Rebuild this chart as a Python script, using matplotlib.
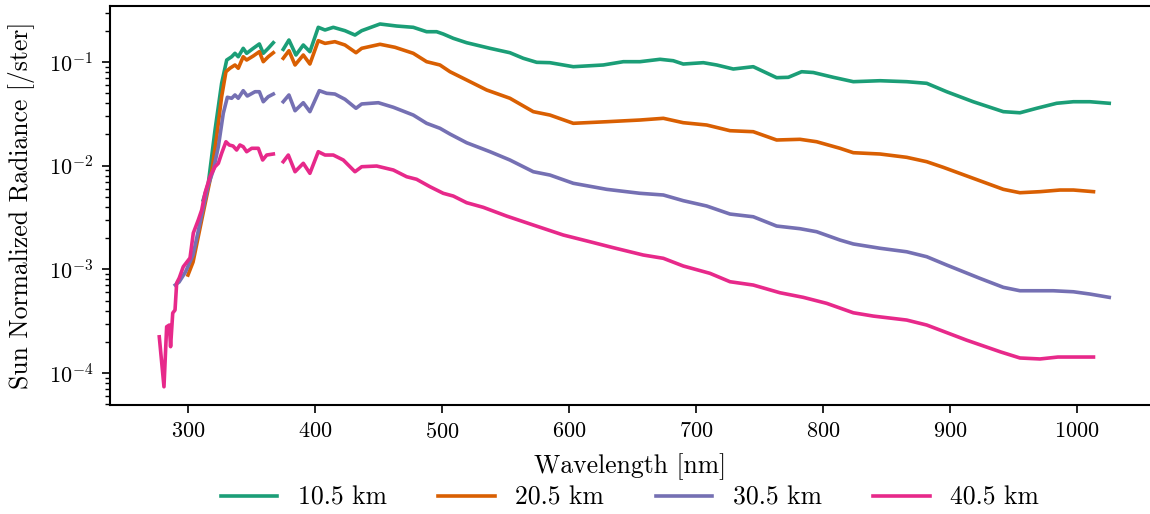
import numpy as np
import matplotlib
matplotlib.use("Agg")
import matplotlib.pyplot as plt

plt.rcParams["font.family"] = "serif"
plt.rcParams["font.serif"] = ["cmr10"]
plt.rcParams["mathtext.fontset"] = "cm"
plt.rcParams["axes.formatter.use_mathtext"] = True
plt.rcParams["axes.unicode_minus"] = False

nan = np.nan

# 10.5 km
wl_10 = [312, 316, 321.3, 326.5, 330.5, 334.4, 337, 339.6, 343.5, 346.2, 351.4, 356.2, 359.3, 363.2, 367.2,
         370, 375, 379.5, 385, 390.8, 396, 402.6, 407.9, 414.4, 423.6, 431.5, 436.8, 451.2, 464.3, 477.4,
         487.9, 495.8, 501, 508.9, 519.4, 537.8, 553.5, 564, 574.6, 585, 603.4, 627, 642.8, 655.9, 671.7,
         682.1, 690, 705.8, 716.3, 729.4, 745.1, 763.5, 772.7, 783.2, 792.4, 808.1, 823.9, 844.9, 865.9,
         881.7, 897.4, 918.3, 942, 955.1, 968.3, 984, 997.2, 1010.2, 1025.4]
rad_10 = [0.00467, 0.00676, 0.0221, 0.0623, 0.1045, 0.1124, 0.1213, 0.1124, 0.1355, 0.1213, 0.1355, 0.1493,
          0.1213, 0.1355, 0.1535, nan, 0.1324, 0.163, 0.1168, 0.1459, 0.1257, 0.216, 0.2035, 0.216, 0.2004,
          0.182, 0.2004, 0.2325, 0.2223, 0.216, 0.1959, 0.1959, 0.1862, 0.1692, 0.1535, 0.1355, 0.1229,
          0.1086, 0.0993, 0.0985, 0.0901, 0.0936, 0.1007, 0.1007, 0.1062, 0.1029, 0.0956, 0.0985, 0.0936,
          0.0856, 0.0901, 0.0706, 0.0712, 0.0806, 0.0792, 0.0712, 0.0646, 0.066, 0.0646, 0.0623, 0.0517,
          0.0414, 0.0332, 0.0324, 0.0358, 0.040, 0.0414, 0.0414, 0.040]

# 20.5 km
wl_20 = [300, 304, 310.8, 318.5, 322.6, 326.5, 329.9, 333, 337, 339.6, 343.5, 346.2, 351.4, 356.2, 359.3,
         363.2, 367.2, 370, 375, 379.5, 384.3, 390.8, 396, 402.6, 407.9, 415.7, 423.6, 432.3, 436.8, 451.2,
         463, 477.4, 487.9, 498.4, 506.3, 519.4, 535.2, 553.5, 571.9, 585, 603.4, 629.7, 655.9, 674.3, 690,
         708.4, 726.8, 745.1, 763.5, 781.9, 795, 813.4, 823.9, 844.9, 865.9, 881.7, 894.7, 918.3, 942,
         955.1, 970.9, 986.6, 997.2, 1013]
rad_20 = [0.000883, 0.001178, 0.002996, 0.00845, 0.01905, 0.0463, 0.0806, 0.087, 0.0936, 0.087, 0.1124,
          0.1045, 0.1143, 0.1257, 0.1007, 0.1124, 0.1229, nan, 0.1086, 0.1285, 0.0936, 0.1168, 0.0956, 0.1605,
          0.1512, 0.157, 0.1459, 0.1229, 0.1355, 0.1482, 0.1386, 0.1213, 0.1007, 0.0936, 0.0806, 0.0671,
          0.0537, 0.0447, 0.0332, 0.0308, 0.02564, 0.02656, 0.02758, 0.02865, 0.02599, 0.02469, 0.02176,
          0.02128, 0.0177, 0.01797, 0.01703, 0.01472, 0.01335, 0.01297, 0.01205, 0.01093, 0.00965, 0.00756,
          0.00592, 0.00549, 0.00562, 0.00583, 0.00583, 0.00562]

# 30.5 km
wl_30 = [290, 293, 298, 304, 310.8, 316, 320, 323.9, 327.8, 331, 334.4, 337, 339.6, 343.5, 346.7, 352.8,
         356.2, 359.3, 363.2, 367.2, 370, 375, 379.5, 384.3, 390.8, 396, 403.4, 409.2, 415.7, 423.6, 432.3,
         436.8, 449.9, 461.7, 477.4, 487.9, 498.4, 506.3, 519.4, 537.8, 553.5, 571.9, 585, 603.4, 629.7,
         655.9, 674.3, 690, 708.4, 726.8, 745.1, 763.5, 781.9, 795, 813.4, 823.9, 844.9, 865.9, 881.7, 897.4,
         923.6, 942, 955.1, 981.3, 997.2, 1010.2, 1025.4]
rad_30 = [0.000708, 0.000756, 0.000944, 0.001377, 0.003346, 0.00652, 0.00909, 0.01525, 0.032, 0.0457, 0.0447,
          0.0481, 0.0447, 0.0529, 0.047, 0.0517, 0.0517, 0.0414, 0.0463, 0.0491, nan, 0.0414, 0.0481, 0.0339,
          0.0405, 0.0332, 0.0529, 0.0499, 0.0491, 0.0437, 0.0358, 0.0394, 0.0405, 0.0366, 0.0308, 0.02564,
          0.02295, 0.0202, 0.01666, 0.01365, 0.01135, 0.00875, 0.00813, 0.00677, 0.00592, 0.00542, 0.00522,
          0.0046, 0.00409, 0.00342, 0.00322, 0.00262, 0.00247, 0.00231, 0.00192, 0.00176, 0.0016, 0.00148,
          0.001326, 0.001103, 0.00082, 0.000672, 0.000623, 0.000623, 0.000609, 0.000579, 0.000538]

# 40.5 km
wl_40 = [277.4, 281.1, 283.2, 285.3, 286.3, 288, 289.8, 291.1, 293.1, 296.3, 301.6, 304.2, 308.1, 310.8,
         313.4, 317.3, 321.3, 323.9, 326.5, 329.9, 332.5, 335.5, 338.3, 340.9, 343.5, 346.2, 350.2, 355.4,
         358.8, 362, 367.2, 370, 375, 379, 384.3, 390.8, 396, 402.6, 407.9, 414.4, 422.3, 431.5, 436.8,
         448.6, 461.7, 472.2, 480, 490.6, 501, 508.9, 519.4, 532.5, 550.9, 571.9, 595.5, 616.5, 634.9,
         658.5, 674.3, 690, 711, 726.8, 745.1, 766.1, 784.5, 802.9, 823.9, 839.6, 865.9, 881.7, 913.1, 940,
         955.1, 970.9, 985, 1013]
rad_40 = [0.000224, 0.0000739, 0.00028, 0.000291, 0.00018, 0.00038, 0.000406, 0.00074, 0.000826, 0.001062,
          0.00129, 0.002244, 0.002996, 0.00374, 0.00545, 0.00783, 0.00978, 0.01055, 0.01317, 0.01703,
          0.01584, 0.01549, 0.01417, 0.01584, 0.01525, 0.01365, 0.01472, 0.01472, 0.01135, 0.01268, 0.01297,
          nan, 0.01093, 0.01268, 0.00875, 0.01055, 0.00845, 0.01365, 0.01268, 0.01268, 0.01135, 0.00875,
          0.00978, 0.00993, 0.00909, 0.00783, 0.0074, 0.00627, 0.00542, 0.0051, 0.0044, 0.00397, 0.00327,
          0.00268, 0.002147, 0.00185, 0.00162, 0.001377, 0.00128, 0.001079, 0.000917, 0.000761, 0.000707,
          0.000596, 0.000538, 0.000471, 0.000382, 0.000355, 0.000325, 0.000291, 0.000208, 0.00016, 0.00014,
          0.000137, 0.000143, 0.000143]

labels = ["10.5 km", "20.5 km", "30.5 km", "40.5 km"]
colors = ["#1b9e77", "#d95f02", "#7570b3", "#e7298a"]

fig = plt.figure(figsize=(11.5, 5.14), dpi=100)
ax = fig.add_axes([110 / 1150, 1 - 405 / 514, 1 - 110 / 1150, 399.5 / 514])

series = [(wl_10, rad_10), (wl_20, rad_20), (wl_30, rad_30), (wl_40, rad_40)]
for (wl, rad), lab, col in zip(series, labels, colors):
    ax.plot(wl, rad, color=col, lw=2.6, label=lab, solid_joinstyle="round")

ax.set_yscale("log")
ax.set_xlim(238.6, 1057.5)
ax.set_ylim(4.93e-5, 0.3506)
ax.set_xticks([300, 400, 500, 600, 700, 800, 900, 1000])

ax.spines["right"].set_visible(False)
for s in ["left", "bottom", "top"]:
    ax.spines[s].set_linewidth(1.5)
ax.tick_params(axis="both", which="major", labelsize=16, length=6, width=1.2, pad=6)
ax.tick_params(axis="y", which="minor", length=3.5, width=1.0)
ax.tick_params(top=False, right=False, which="both")

ax.set_xlabel("Wavelength [nm]", fontsize=18.5, labelpad=8)
ax.set_ylabel("Sun Normalized Radiance [/ster]", fontsize=18.5, labelpad=10)

ax.legend(loc="center", bbox_to_anchor=(0.5, -0.232), ncol=4, frameon=False,
          fontsize=18.5, handlelength=2.2, columnspacing=2.0, borderpad=0.2)

fig.savefig("out.png", dpi=100, facecolor="white")
